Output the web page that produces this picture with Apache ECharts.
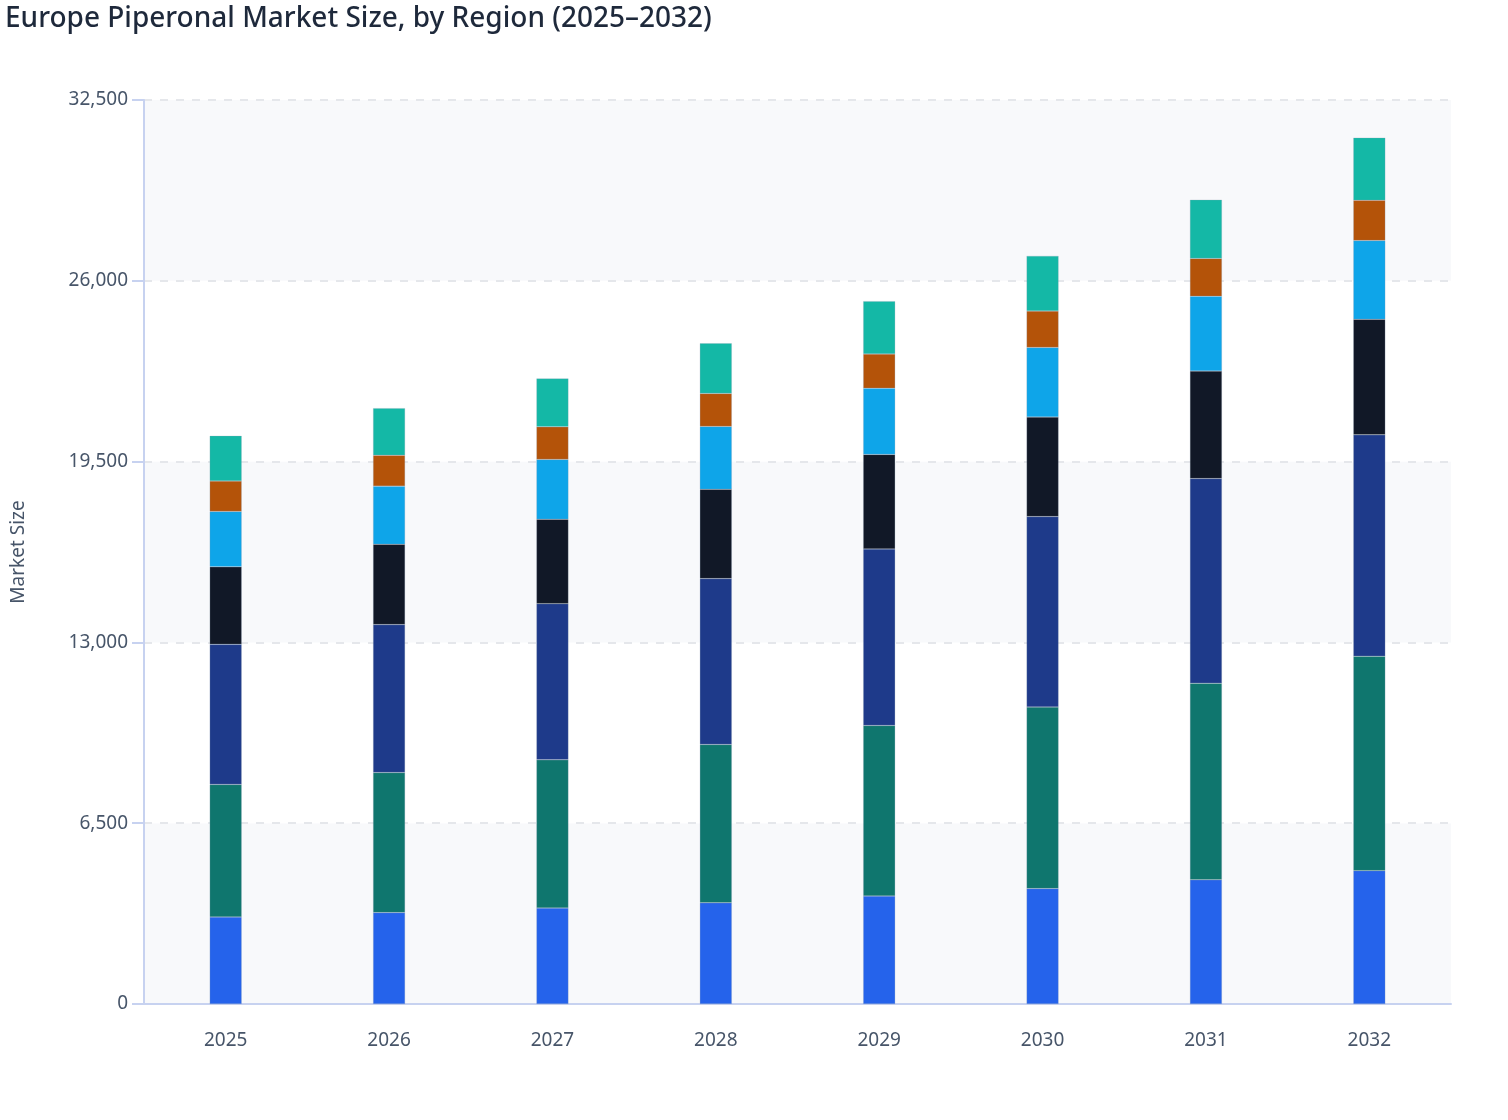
<!DOCTYPE html>
<html>
<head>
<meta charset="utf-8">
<script src="https://cdn.jsdelivr.net/npm/echarts@6/dist/echarts.min.js"></script>
<style>
html,body{margin:0;padding:0;background:#fff;}
#chart{width:1508px;height:1120px;}
</style>
</head>
<body>
<div id="chart"></div>
<script>
const years = ['2025','2026','2027','2028','2029','2030','2031','2032'];
const seriesNames = ['Germany','France','United Kingdom','Italy','Spain','Netherlands','Rest of Europe'];
const germany     = [3129, 3286, 3448, 3637, 3880, 4149, 4464, 4795];
const france      = [4765, 5035, 5329, 5694, 6134, 6526, 7069, 7709];
const uk          = [5035, 5319, 5615, 5962, 6348, 6849, 7357, 7957];
const italy       = [2788, 2887, 3036, 3211, 3397, 3576, 3865, 4154];
const spain       = [1991, 2091, 2151, 2261, 2378, 2504, 2687, 2832];
const netherlands = [1095, 1110, 1171, 1186, 1234, 1306, 1364, 1446];
const restEurope  = [1622, 1692, 1739, 1803, 1896, 1984, 2108, 2253];
const yTicks = [0, 6500, 13000, 19500, 26000, 32500];

const values = [germany, france, uk, italy, spain, netherlands, restEurope];
const colors = ['#2563eb','#0f766e','#1e3a8a','#111827','#0ea5e9','#b45309','#14b8a6'];

const chart = echarts.init(document.getElementById('chart'));
const font = 'Noto Sans';
chart.setOption({
  animation: false,
  textStyle: { fontFamily: font },
  title: {
    text: 'Europe Piperonal Market Size, by Region (2025\u20132032)',
    left: 0, top: 0,
    textStyle: { fontFamily: font, fontSize: 28, fontWeight: 500, color: '#1e293b' }
  },
  tooltip: { trigger: 'axis', axisPointer: { type: 'shadow' } },
  grid: { left: 144, right: 57, top: 100, bottom: 116, containLabel: false },
  xAxis: {
    type: 'category',
    data: years,
    axisLine: { lineStyle: { color: '#c7d2f0', width: 2 } },
    axisTick: { alignWithLabel: true, length: 10, lineStyle: { color: '#c7d2f0', width: 2 } },
    axisLabel: { color: '#475569', fontSize: 19, margin: 27, fontFamily: font }
  },
  yAxis: {
    type: 'value',
    min: yTicks[0], max: yTicks[yTicks.length - 1], interval: yTicks[1] - yTicks[0],
    name: 'Market Size',
    nameLocation: 'middle',
    nameGap: 116,
    nameTextStyle: { color: '#475569', fontSize: 19, fontFamily: font },
    axisLine: { show: true, lineStyle: { color: '#c7d2f0', width: 2 } },
    axisTick: { show: true, length: 12, lineStyle: { color: '#c7d2f0', width: 2 } },
    axisLabel: {
      color: '#475569', fontSize: 19, margin: 16, fontFamily: font,
      formatter: v => v.toLocaleString('en-US')
    },
    splitLine: { show: true, lineStyle: { color: '#e5e7eb', type: [8, 8], width: 2 } },
    splitArea: { show: true, areaStyle: { color: ['#f8f9fb', '#ffffff'] } }
  },
  series: seriesNames.map((n, i) => ({
    name: n,
    type: 'bar',
    stack: 'total',
    barWidth: 32,
    data: values[i],
    itemStyle: { color: colors[i], borderColor: 'rgba(148,163,184,0.5)', borderWidth: 0.5 }
  }))
});
</script>
</body>
</html>
